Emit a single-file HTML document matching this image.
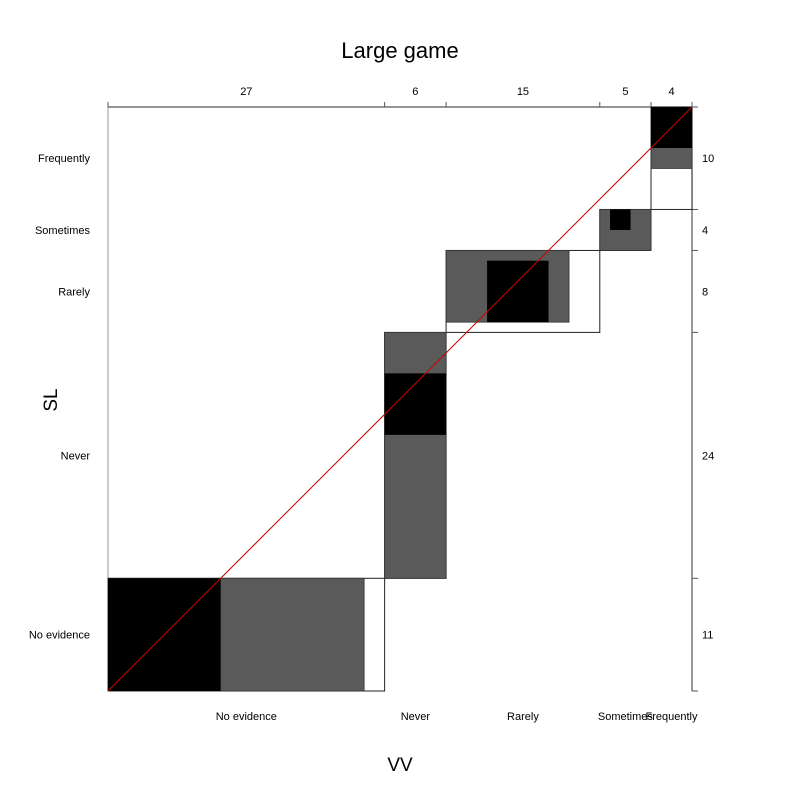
<!DOCTYPE html>
<html><head><meta charset="utf-8"><style>
body{margin:0;background:#fff}
svg text{font-family:"Liberation Sans",sans-serif}
</style></head><body>
<svg id="c" width="800" height="800" xmlns="http://www.w3.org/2000/svg">
<rect width="800" height="800" fill="#fff"/>
<text x="400" y="58" font-size="22" text-anchor="middle">Large game</text>
<text x="400" y="771" font-size="19" text-anchor="middle">VV</text>
<text x="0" y="0" font-size="19" text-anchor="middle" transform="translate(57,400) rotate(-90)">SL</text>
<g id="marks"></g>
</svg>
<script>
const categories=["No evidence","Never","Rarely","Sometimes","Frequently"];
const colTotals=[27,6,15,5,4];
const rowTotals=[11,24,8,4,10];
// partial agreement (grey) rects in data units: [x0,x1,y0,y1]
const greyX0=[0,27,33,48,53], greyX1=[25,33,45,53,57];
const greyY0=[0,11,36,43,51], greyY1=[11,35,43,47,57];
// exact agreement (black)
const blackX0=[0,27,37,49,53], blackX1=[11,33,43,51,57];
const blackY0=[0,25,36,45,53], blackY1=[11,31,42,47,57];

const L=108,R=692,T=107,B=691;
const N=colTotals.reduce((a,b)=>a+b,0);
const sx=v=>L+v*(R-L)/N;
const sy=v=>B-v*(B-T)/N;
const NS="http://www.w3.org/2000/svg";
const g=document.getElementById('marks');
function mk(tag,at){const e=document.createElementNS(NS,tag);for(const k in at)e.setAttribute(k,at[k]);g.appendChild(e);return e;}
const cc=[0],rc=[0];
colTotals.forEach((v,i)=>cc.push(cc[i]+v));
rowTotals.forEach((v,i)=>rc.push(rc[i]+v));
// frame
let f=mk('line',{x1:L,y1:T,x2:L,y2:B,stroke:'#999','stroke-width':1});


let ta=mk('line',{x1:L,y1:T,x2:R,y2:T,stroke:'#555','stroke-width':1.2});


let ra=mk('line',{x1:R,y1:T,x2:R,y2:B,stroke:'#555','stroke-width':1.2});


cc.forEach(v=>{let t=mk('line',{x1:sx(v),y1:T,x2:sx(v),y2:T-5,stroke:'#555'});

});
rc.forEach(v=>{let t=mk('line',{x1:R,y1:sy(v),x2:R+6,y2:sy(v),stroke:'#555'});

});
categories.forEach((c,i)=>{
 let o=mk('rect',{x:sx(cc[i]),y:sy(rc[i+1]),width:sx(cc[i+1])-sx(cc[i]),height:sy(rc[i])-sy(rc[i+1]),fill:'#fff',stroke:'#222','stroke-width':1});
 
 
});
categories.forEach((c,i)=>{
 let gr=mk('rect',{x:sx(greyX0[i]),y:sy(greyY1[i]),width:sx(greyX1[i])-sx(greyX0[i]),height:sy(greyY0[i])-sy(greyY1[i]),fill:'#5a5a5a',stroke:'#333','stroke-width':0.8});
 
 
 let bl=mk('rect',{x:sx(blackX0[i]),y:sy(blackY1[i]),width:sx(blackX1[i])-sx(blackX0[i]),height:sy(blackY0[i])-sy(blackY1[i]),fill:'#000'});
 
 
 const cx=(sx(cc[i])+sx(cc[i+1]))/2, cy=(sy(rc[i])+sy(rc[i+1]))/2;
 let t1=mk('text',{x:cx,y:95,'font-size':11,'text-anchor':'middle'});t1.textContent=colTotals[i];
 
 
 let t2=mk('text',{x:cx,y:720,'font-size':11,'text-anchor':'middle'});t2.textContent=c;
 
 
 let t3=mk('text',{x:90,y:cy+4,'font-size':11,'text-anchor':'end'});t3.textContent=c;
 
 
 let t4=mk('text',{x:702,y:cy+4,'font-size':11});t4.textContent=rowTotals[i];
 
 
});
let d=mk('line',{x1:L,y1:B,x2:R,y2:T,stroke:'#c00','stroke-width':1});


</script>
</body></html>
